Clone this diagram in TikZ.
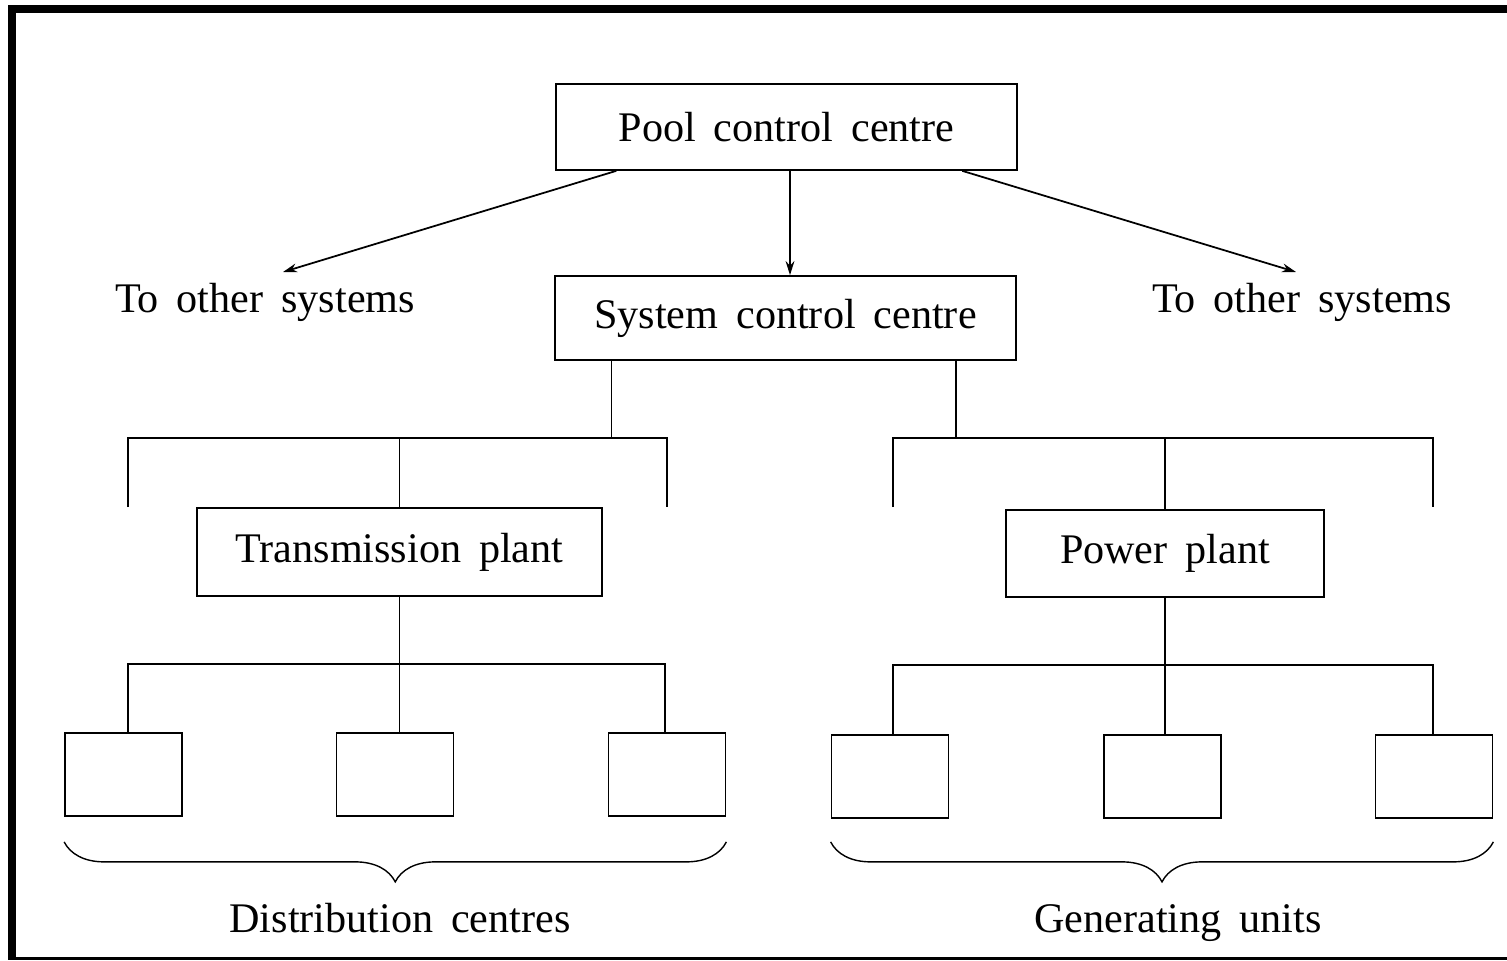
\documentclass[tikz,border=0pt]{standalone}
\usepackage{fontspec}
\setmainfont{Liberation Serif}[WordSpace=1.7]
\usetikzlibrary{arrows.meta,positioning,calc,decorations.pathreplacing}

\tikzset{
  box/.style={draw, line width=1pt, minimum width=#1, minimum height=1.72cm, inner sep=0pt},
  unitbox/.style={draw, line width=1pt, minimum width=2.34cm, minimum height=1.66cm, inner sep=0pt},
  label text/.style={inner sep=0pt, anchor=base},
  bracket/.style={decorate, decoration={brace, mirror, amplitude=0.8cm}, line width=0.8pt}
}

\begin{document}
\begin{tikzpicture}[x=0.02cm, y=-0.02cm, line width=1pt, >={Stealth[length=8pt,width=5pt]},
    font=\fontsize{24}{29}\selectfont]
      \useasboundingbox (0,0) rectangle (1507,960);
      \fill (8,5) rectangle (16,960);
      \fill (8,5) rectangle (1507,13);
      \draw[line width=1.2pt] (8,958.5) -- (1507,958.5);

      \node[box=9.22cm] (pool) at (786.5,127) {Pool control centre};
      \node[box=9.22cm, minimum height=1.68cm] (scc) at (785.5,318) {System control centre};
      \node[label text] (leftsys) at (265,312) {To other systems};
      \node[label text] (rightsys) at (1302,312) {To other systems};
      \node[box=8.1cm, minimum height=1.76cm] (trans) at (399.5,552) {Transmission plant};
      \node[box=6.36cm, minimum height=1.74cm] (power) at (1165,553.5) {Power plant};

      \node[unitbox] (d1) at (123.5,774.5) {};
      \node[unitbox] (d2) at (395,774.5) {};
      \node[unitbox] (d3) at (667,774.5) {};
      \node[unitbox] (g1) at (890,776.5) {};
      \node[unitbox] (g2) at (1162.5,776.5) {};
      \node[unitbox] (g3) at (1434,776.5) {};

      \coordinate (lend) at (283,272);
      \coordinate (rend) at (1296,272);
      \draw[->] ($(pool.south west)!0.132!(pool.south east)$) -- (lend);
      \draw[->] ($(pool.south west)!0.88!(pool.south east)$) -- (rend);
      \draw[->] ([xshift=0.07cm]pool.south) -- ([xshift=0.07cm]pool.south |- scc.north);

      \coordinate (sl) at ($(scc.south west)!0.124!(scc.south east)$);
      \coordinate (sr) at ($(scc.south west)!0.868!(scc.south east)$);
      \coordinate (tl) at (128,438);
      \coordinate (tr) at (667,438);
      \coordinate (gl) at (893,438);
      \coordinate (gr) at (1433,438);
      \draw (sl) -- (sl |- tl);
      \draw (tl |- trans.north) -- (tl) -- (tr) -- (tr |- trans.north);
      \draw (trans.north) -- (trans.north |- tl);
      \draw (sr) -- (sr |- gl);
      \draw (gl |- trans.north) -- (gl) -- (gr) -- (gr |- trans.north);
      \draw (power.north) -- (power.north |- gl);

      \coordinate (dbus) at (0,664);
      \coordinate (gbus) at (0,665);
      \draw (trans.south) -- (trans.south |- d2.north);
      \draw ([xshift=0.09cm]d1.north) -- ([xshift=0.09cm]d1.north |- dbus) -- ([xshift=-0.04cm]d3.north |- dbus) -- ([xshift=-0.04cm]d3.north);
      \draw (power.south) -- (power.south |- g2.north);
      \draw ([xshift=0.06cm]g1.north) -- ([xshift=0.06cm]g1.north |- gbus) -- ([xshift=-0.02cm]g3.north |- gbus) -- ([xshift=-0.02cm]g3.north);

      \draw[bracket] ([yshift=-0.5cm]d1.south west) -- ([yshift=-0.5cm]d3.south east);
      \draw[bracket] ([yshift=-0.46cm]g1.south west) -- ([yshift=-0.46cm]g3.south east);
      \node[label text] (distc) at (400,932) {Distribution centres};
      \node[label text] (genu) at (1178,932) {Generating units};
\end{tikzpicture}
\end{document}
